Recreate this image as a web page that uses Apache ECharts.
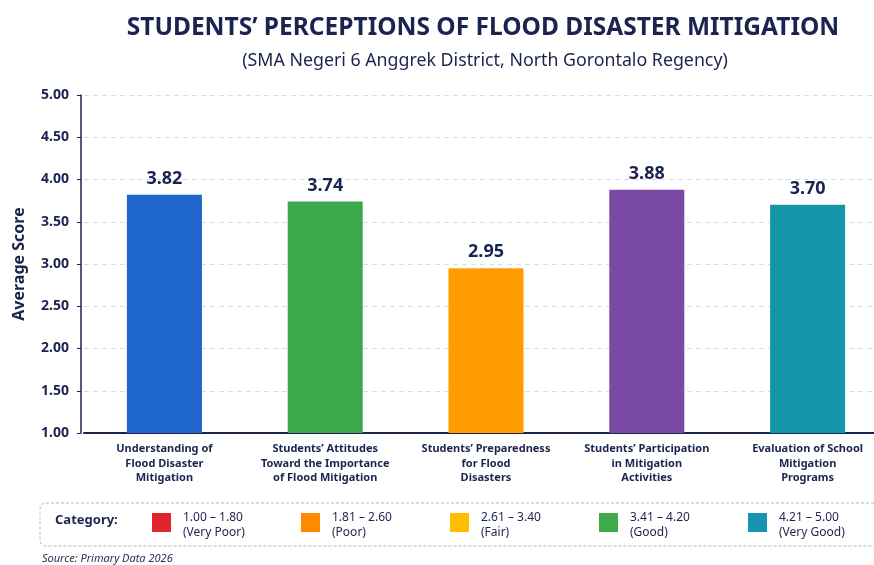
<!DOCTYPE html>
<html>
<head>
<meta charset="utf-8">
<script src="https://cdn.jsdelivr.net/npm/echarts@6/dist/echarts.min.js"></script>
<style>
  html, body { margin: 0; padding: 0; background: #ffffff; }
  #chart { width: 874px; height: 565px; }
</style>
</head>
<body>
<div id="chart"></div>
<script>
// 类别（横轴）
const categories = [
  'Understanding of\nFlood Disaster\nMitigation',
  'Students\u2019 Attitudes\nToward the Importance\nof Flood Mitigation',
  'Students\u2019 Preparedness\nfor Flood\nDisasters',
  'Students\u2019 Participation\nin Mitigation\nActivities',
  'Evaluation of School\nMitigation\nPrograms'
]
// 平均得分
const scores = [3.82, 3.74, 2.95, 3.88, 3.70]
const barColors = ['#1f66cc', '#3da84a', '#ff9d00', '#7b4aa6', '#1596a8']

// 评分类别图例
const rangeLabels = ['1.00 \u2013 1.80', '1.81 \u2013 2.60', '2.61 \u2013 3.40', '3.41 \u2013 4.20', '4.21 \u2013 5.00']
const rangeNames = ['(Very Poor)', '(Poor)', '(Fair)', '(Good)', '(Very Good)']
const rangeColors = ['#e3242f', '#ff8a00', '#ffbf00', '#3fab4b', '#1a93b0']

const navy = '#1b2350'
const font = 'Noto Sans'

const chart = echarts.init(document.getElementById('chart'))

// 图例用 graphic 画
const legendItems = []
rangeLabels.forEach((label, i) => {
  const x = 152 + i * 149
  legendItems.push({
    type: 'rect',
    shape: { x: x, y: 513, width: 19, height: 19 },
    style: { fill: rangeColors[i] }
  })
  legendItems.push({
    type: 'text',
    style: {
      x: x + 31, y: 510,
      text: label + '\n' + rangeNames[i],
      fill: navy, font: '12px "' + font + '"', lineHeight: 15
    }
  })
})

const option = {
  backgroundColor: '#ffffff',
  textStyle: { fontFamily: font },
  title: [
    {
      text: 'STUDENTS\u2019 PERCEPTIONS OF FLOOD DISASTER MITIGATION',
      left: 478, top: 11, textAlign: 'center',
      textStyle: { fontSize: 24.5, fontWeight: 'bold', color: navy, fontFamily: font }
    },
    {
      text: '(SMA Negeri 6 Anggrek District, North Gorontalo Regency)',
      left: 480, top: 47, textAlign: 'center',
      textStyle: { fontSize: 17.8, fontWeight: 'normal', color: navy, fontFamily: font }
    }
  ],
  grid: { left: 84, width: 804, top: 95, bottom: 132, outerBoundsMode: 'none' },
  xAxis: {
    type: 'category',
    data: categories,
    axisLine: { lineStyle: { color: navy, width: 2 } },
    axisTick: { show: false },
    axisLabel: {
      interval: 0, margin: 9, color: navy, fontSize: 11, fontWeight: 'bold',
      lineHeight: 14.5, fontFamily: font
    }
  },
  yAxis: {
    type: 'value',
    min: 1, max: 5, interval: 0.5,
    offset: 3,
    name: 'Average Score',
    nameLocation: 'middle',
    nameGap: 54,
    nameTextStyle: { fontSize: 16, fontWeight: 'bold', color: navy, fontFamily: font },
    axisLine: { show: true, lineStyle: { color: navy, width: 1.5 } },
    axisTick: { show: true, length: 4, lineStyle: { color: navy } },
    axisLabel: {
      color: navy, fontSize: 14, fontWeight: 'bold', margin: 12, fontFamily: font,
      formatter: v => v.toFixed(2)
    },
    splitLine: { lineStyle: { color: '#dcdcdc', type: [5, 4] } }
  },
  series: [
    {
      type: 'bar',
      barWidth: 75,
      data: scores.map((v, i) => ({ value: v, itemStyle: { color: barColors[i] } })),
      label: {
        show: true, position: 'top', distance: 7,
        color: navy, fontSize: 18, fontWeight: 'bold', fontFamily: font,
        formatter: p => p.value.toFixed(2)
      }
    }
  ],
  graphic: [
    {
      type: 'rect',
      shape: { x: 40, y: 503, width: 850, height: 43, r: 6 },
      style: { fill: '#ffffff', stroke: '#b8b8b8', lineWidth: 1, lineDash: [3, 2] }
    },
    {
      type: 'text',
      style: {
        x: 55, y: 514, text: 'Category:', fill: navy,
        font: 'bold 13px "' + font + '"'
      }
    },
    ...legendItems,
    {
      type: 'text',
      style: {
        x: 42, y: 553, text: 'Source: Primary Data 2026', fill: '#2a3050',
        font: 'italic 11px "' + font + '"'
      }
    }
  ]
}

chart.setOption(option)
</script>
</body>
</html>
